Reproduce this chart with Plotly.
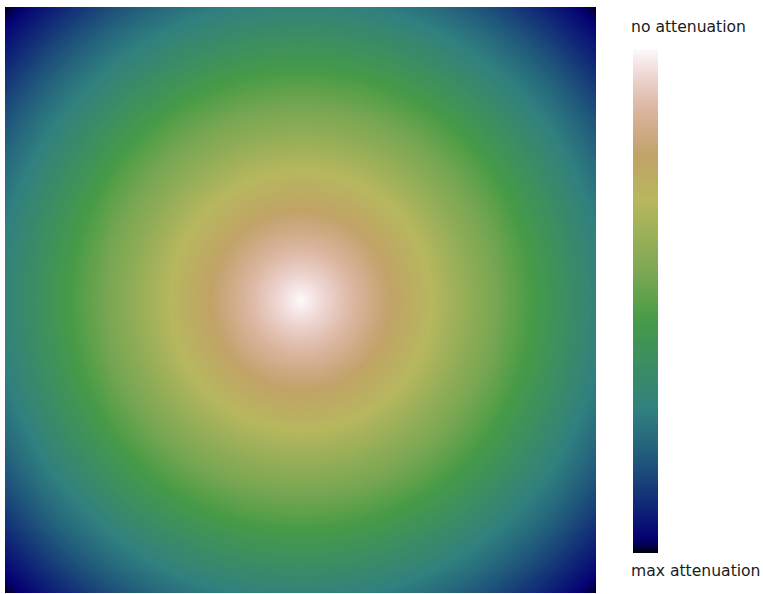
import numpy as np
import plotly.graph_objects as go

# Radial attenuation profile
# (distance from centre as a fraction of the centre-to-corner distance -> value)
radius_fraction = [0.0, 0.1, 0.2, 0.3, 0.4, 0.5, 0.6, 0.7, 0.8, 0.9, 1.0]
attenuation_value = [1.0, 0.905, 0.805, 0.71, 0.61, 0.515, 0.415, 0.31, 0.205, 0.10, 0.0]

top_label = "no attenuation"
bottom_label = "max attenuation"

# gist_earth colormap segment data
_red = [(0.0, 0.0), (0.2824, 0.1882), (0.4588, 0.2714), (0.5490, 0.4719),
        (0.6980, 0.7176), (0.7882, 0.7553), (1.0, 0.9922)]
_green = [(0.0, 0.0), (0.0275, 0.0), (0.1098, 0.1893), (0.1647, 0.3035),
          (0.2078, 0.3841), (0.2824, 0.5020), (0.5216, 0.6397), (0.6980, 0.7171),
          (0.7882, 0.6392), (0.7922, 0.6413), (0.8000, 0.6447), (0.8078, 0.6481),
          (0.8157, 0.6549), (0.8667, 0.6991), (0.8745, 0.7103), (0.8824, 0.7216),
          (0.8902, 0.7323), (0.8980, 0.7430), (0.9412, 0.8275), (0.9569, 0.8635),
          (0.9647, 0.8816), (0.9961, 0.9733), (1.0, 0.9843)]
_blue = [(0.0, 0.0), (0.0039, 0.1684), (0.0078, 0.2212), (0.0275, 0.4329),
         (0.0314, 0.4549), (0.2824, 0.5004), (0.4667, 0.2748), (0.5451, 0.3205),
         (0.7843, 0.3961), (0.8941, 0.6651), (1.0, 0.9843)]


def _chan(seg, t):
    xs = [s[0] for s in seg]
    ys = [s[1] for s in seg]
    return float(np.interp(t, xs, ys))


stops = np.linspace(0, 1, 129)
colorscale = []
for t in stops:
    r, g, b = (_chan(_red, t), _chan(_green, t), _chan(_blue, t))
    colorscale.append([float(t), f"rgb({round(r*255)},{round(g*255)},{round(b*255)})"])

n = 301
coords = np.linspace(-1, 1, n)
X, Y = np.meshgrid(coords, coords)
dist = np.sqrt(X**2 + Y**2) / np.sqrt(2)
Z = np.interp(dist, radius_fraction, attenuation_value)

W, H = 763, 594
fig = go.Figure(go.Heatmap(
    z=Z, x=coords, y=coords, colorscale=colorscale, zmin=0, zmax=1,
    zsmooth="best", hoverinfo="skip",
    colorbar=dict(
        thickness=25, thicknessmode="pixels",
        len=504, lenmode="pixels",
        x=633 / W, xanchor="left", xpad=0,
        y=1 - 301 / H, yanchor="middle", ypad=0,
        outlinewidth=0, showticklabels=False, ticks="",
    ),
))

fig.update_layout(
    width=W, height=H, margin=dict(l=0, r=0, t=0, b=0),
    paper_bgcolor="white", plot_bgcolor="white",
    xaxis=dict(domain=[5 / W, 596 / W], visible=False, range=[-1, 1]),
    yaxis=dict(domain=[1 - 593 / H, 1 - 7 / H], visible=False, range=[-1, 1]),
    font=dict(family="DejaVu Sans", color="#1a1a1a"),
    annotations=[
        dict(text=top_label, x=629 / W, y=1 - 27 / H, xref="paper", yref="paper",
             xanchor="left", yanchor="middle", showarrow=False,
             font=dict(size=15.6, family="DejaVu Sans", color="#1a1a1a")),
        dict(text=bottom_label, x=629 / W, y=1 - 571 / H, xref="paper", yref="paper",
             xanchor="left", yanchor="middle", showarrow=False,
             font=dict(size=15.6, family="DejaVu Sans", color="#1a1a1a")),
    ],
)

fig.write_html(
    "out.html",
    config={"displayModeBar": False},
    post_script="document.body.style.margin='0';document.body.style.overflow='hidden';",
)
